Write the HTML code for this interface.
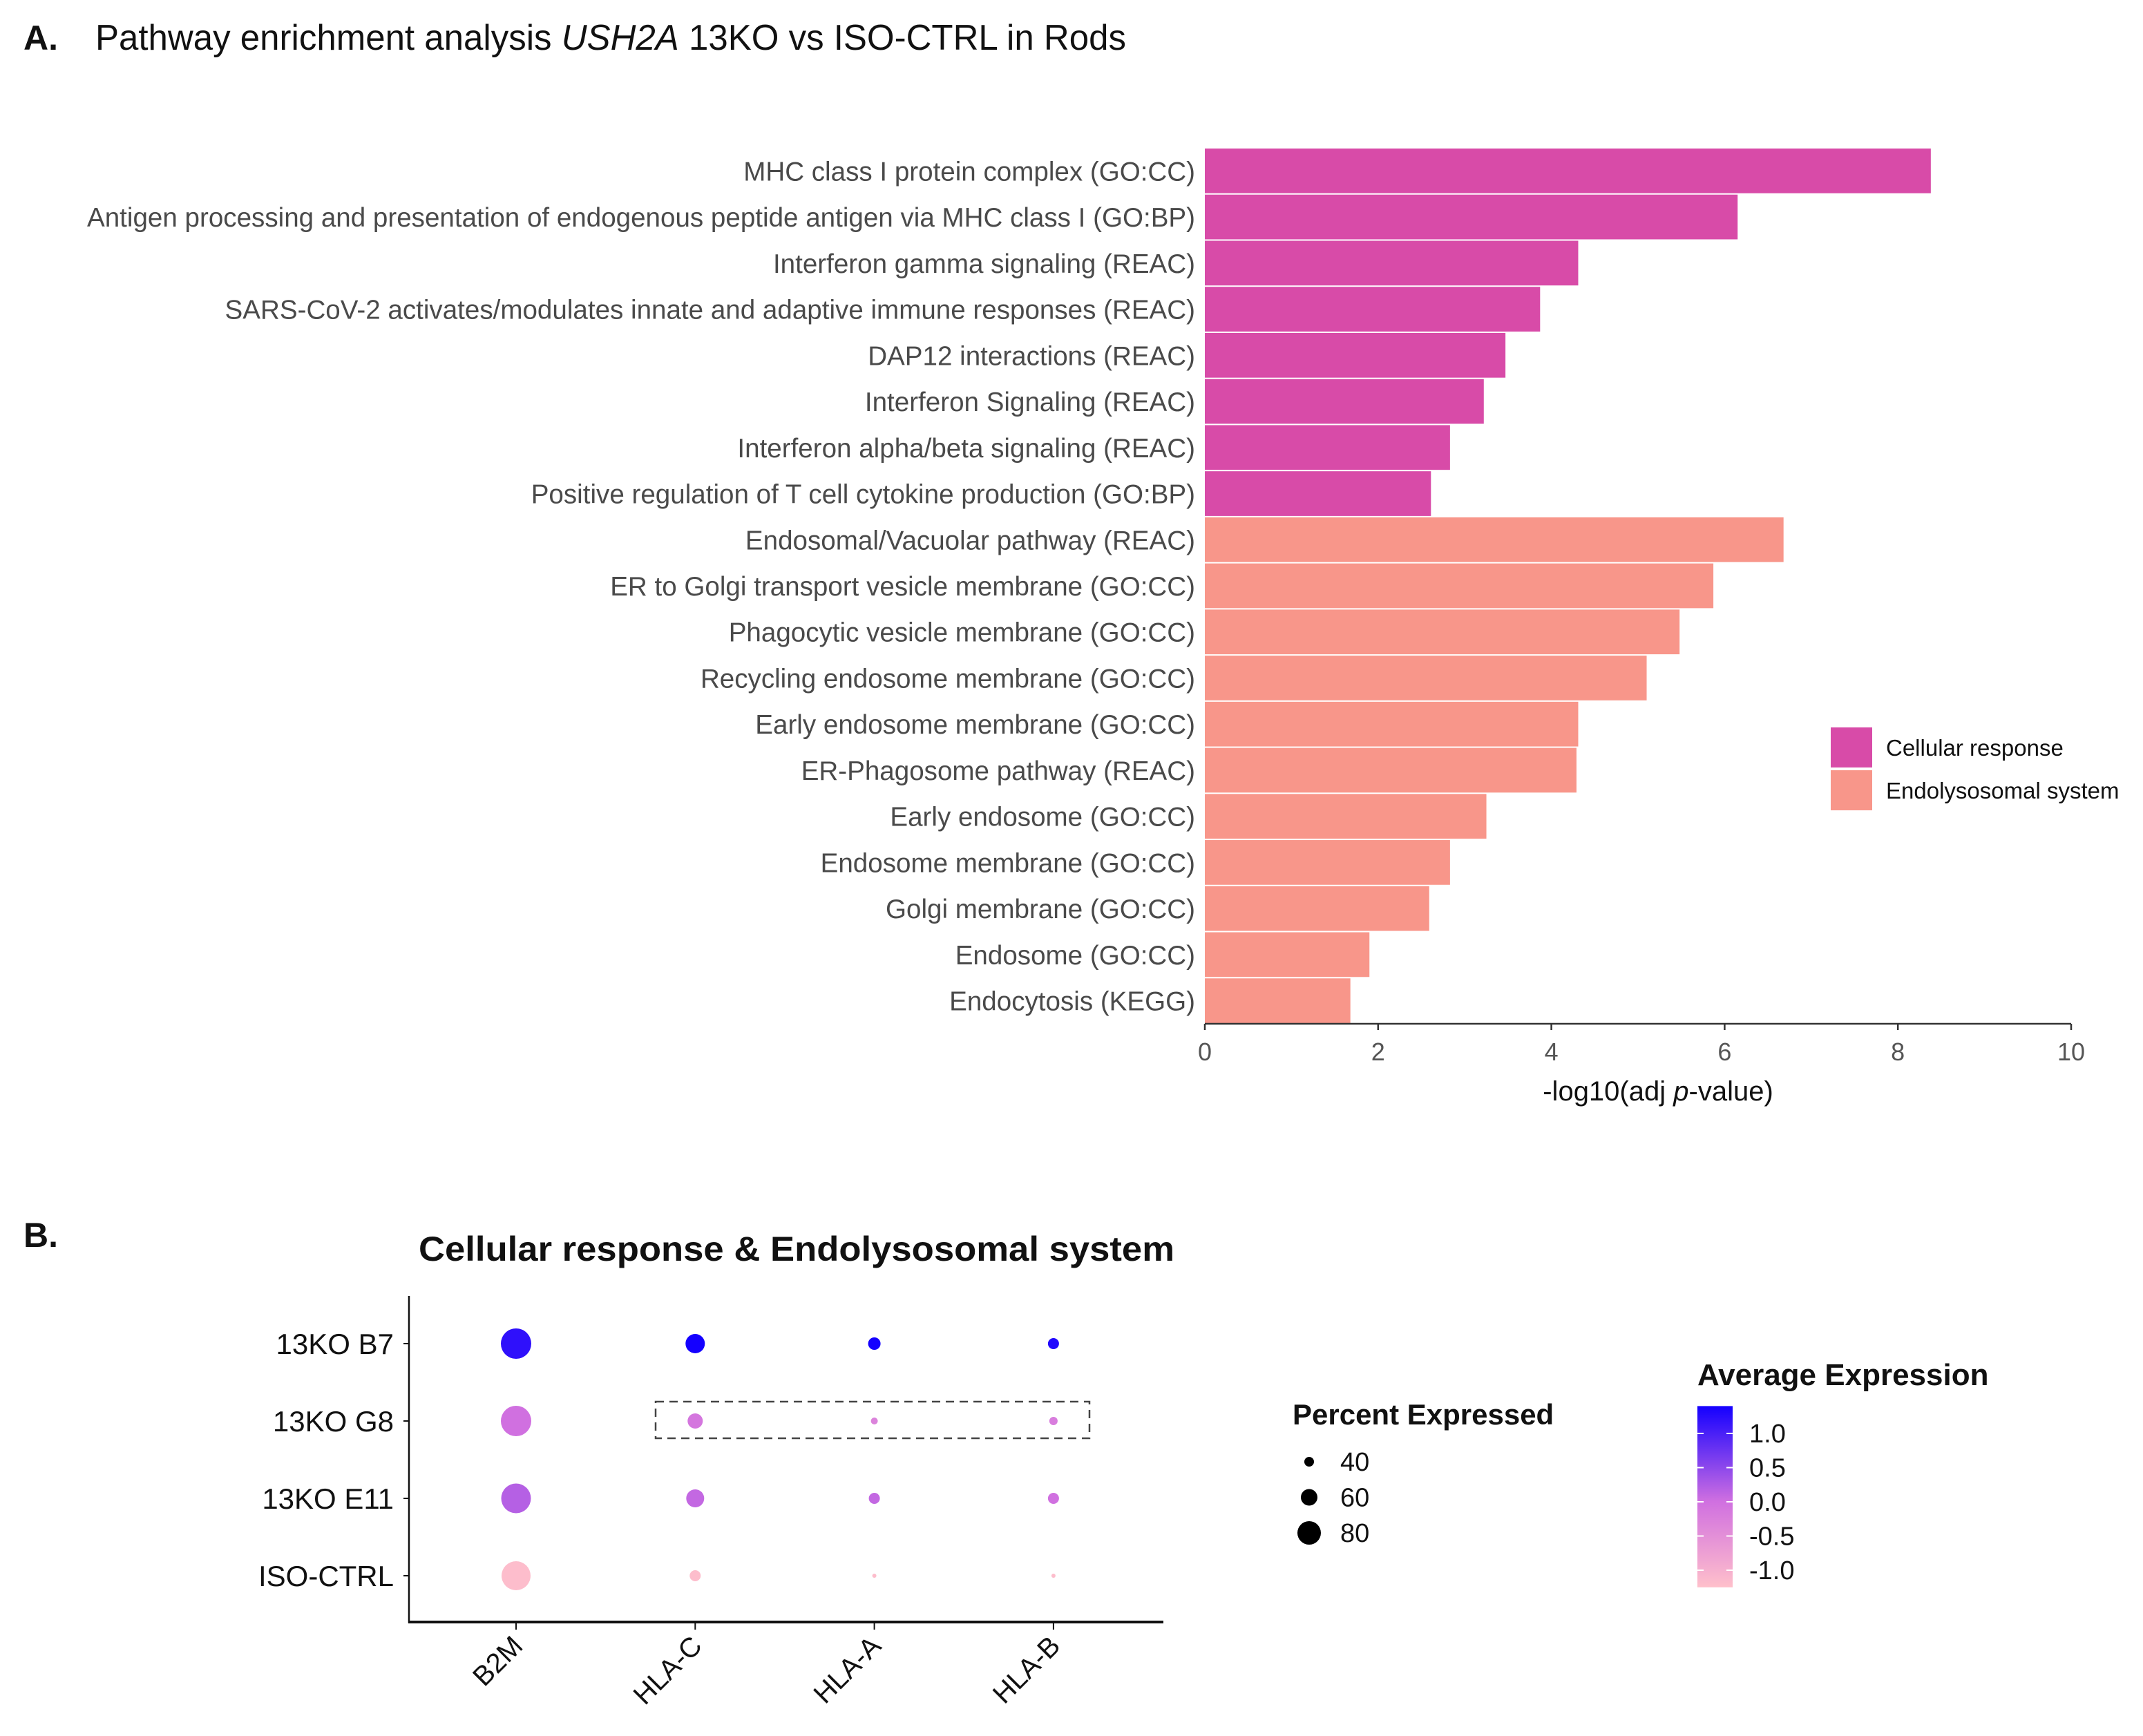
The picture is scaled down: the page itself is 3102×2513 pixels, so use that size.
<!DOCTYPE html>
<html><head><meta charset="utf-8"><style>
html,body{margin:0;padding:0;background:#fff;}
svg{display:block;font-family:"Liberation Sans",Arial,sans-serif;}
</style></head><body>
<svg id="fig" width="3102" height="2513" viewBox="0 0 3102 2513" xmlns="http://www.w3.org/2000/svg">
<rect width="3102" height="2513" fill="#fff"/>
<text x="34" y="72" font-size="50" font-weight="bold" fill="#111">A.</text>
<text id="titleA" x="138" y="72" font-size="52" fill="#111" textLength="1492" lengthAdjust="spacingAndGlyphs">Pathway enrichment analysis <tspan font-style="italic">USH2A</tspan> 13KO vs ISO-CTRL in Rods</text>
<g id="barG"></g>
<text x="34" y="1805" font-size="50" font-weight="bold" fill="#111">B.</text>
<text x="606" y="1825" font-size="50" font-weight="bold" fill="#111" textLength="1094" lengthAdjust="spacingAndGlyphs">Cellular response &amp; Endolysosomal system</text>
<g id="dotG" transform="translate(-2,-7)"></g>
</svg>
<script>
// ---- Panel A data ----
const pathways = ["MHC class I protein complex (GO:CC)","Antigen processing and presentation of endogenous peptide antigen via MHC class I (GO:BP)","Interferon gamma signaling (REAC)","SARS-CoV-2 activates/modulates innate and adaptive immune responses (REAC)","DAP12 interactions (REAC)","Interferon Signaling (REAC)","Interferon alpha/beta signaling (REAC)","Positive regulation of T cell cytokine production (GO:BP)","Endosomal/Vacuolar pathway (REAC)","ER to Golgi transport vesicle membrane (GO:CC)","Phagocytic vesicle membrane (GO:CC)","Recycling endosome membrane (GO:CC)","Early endosome membrane (GO:CC)","ER-Phagosome pathway (REAC)","Early endosome (GO:CC)","Endosome membrane (GO:CC)","Golgi membrane (GO:CC)","Endosome (GO:CC)","Endocytosis (KEGG)"];
const negLogP = [8.38,6.15,4.31,3.87,3.47,3.22,2.83,2.61,6.68,5.87,5.48,5.10,4.31,4.29,3.25,2.83,2.59,1.90,1.68];
const groups = ["Cellular response","Cellular response","Cellular response","Cellular response","Cellular response","Cellular response","Cellular response","Cellular response","Endolysosomal system","Endolysosomal system","Endolysosomal system","Endolysosomal system","Endolysosomal system","Endolysosomal system","Endolysosomal system","Endolysosomal system","Endolysosomal system","Endolysosomal system","Endolysosomal system"];
const groupNames = ["Cellular response","Endolysosomal system"];
const xTicks = [0,2,4,6,8,10];
// ---- Panel B data ----
const genes = ["B2M","HLA-C","HLA-A","HLA-B"];
const samples = ["13KO B7","13KO G8","13KO E11","ISO-CTRL"];
const pctExpr = [[100,68,48,44],[100,56,32,36],[98,64,44,44],[96,44,24,24]];
const avgExpr = [[1.2,1.4,1.4,1.3],[0.0,-0.1,-0.3,-0.2],[0.2,0.1,0.1,0.0],[-1.2,-1.2,-1.2,-1.2]];
const sizeBreaks = [40,60,80];
const colorBreaks = [1.0,0.5,0.0,-0.5,-1.0];

const NS="http://www.w3.org/2000/svg";
function mk(tag,attrs,parent,text){const e=document.createElementNS(NS,tag);for(const k in attrs)e.setAttribute(k,attrs[k]);if(text!==undefined)e.textContent=text;parent.appendChild(e);return e;}

// Panel A
const bg=document.getElementById('barG');
const X0=1744,X1=2998,XMAX=10,TOP=214,BOTTOM=1482;
const PITCH=(BOTTOM-TOP)/pathways.length;
const xs=v=>X0+(v/XMAX)*(X1-X0);
const ys=i=>TOP+i*PITCH;
const colors={"Cellular response":"#D84BA8","Endolysosomal system":"#F8968A"};
pathways.forEach((p,i)=>{
  const r=mk('rect',{x:X0,y:ys(i)+1,width:xs(negLogP[i])-X0,height:PITCH-2,fill:colors[groups[i]]},bg);
  
  
  const t=mk('text',{x:1730,y:ys(i)+PITCH/2+14,'font-size':39,fill:'#4a4a4a','text-anchor':'end'},bg,p);
  
  
});
(function(){const ref=bg.querySelectorAll('text')[1];const w=ref.getComputedTextLength();const f=1604/w;
 bg.querySelectorAll('text').forEach(t=>{t.setAttribute('textLength',t.getComputedTextLength()*f);t.setAttribute('lengthAdjust','spacingAndGlyphs');});})();
const ax=mk('line',{x1:X0,x2:X1,y1:BOTTOM,y2:BOTTOM,stroke:'#333','stroke-width':2.5},bg);


xTicks.forEach(v=>{
  mk('line',{x1:xs(v),x2:xs(v),y1:BOTTOM,y2:BOTTOM+9,stroke:'#333','stroke-width':2.5},bg);
  const t=mk('text',{x:xs(v),y:1535,'font-size':36,fill:'#555','text-anchor':'middle'},bg,String(v));
  
  
});
const xt=mk('text',{x:2400,y:1593,'font-size':40,fill:'#111','text-anchor':'middle'},bg);
xt.innerHTML='-log10(adj <tspan font-style="italic">p</tspan>-value)';


groupNames.forEach((g,i)=>{
  const r=mk('rect',{x:2650,y:1053+i*62,width:60,height:58,fill:colors[g]},bg);
  
  
  const t=mk('text',{x:2730,y:1094+i*62,'font-size':33,fill:'#111'},bg,g);
  
  
});

// Panel B
const dg=document.getElementById('dotG');
const colX=i=>749+i*259.3;
const rowY=i=>1952+i*112;
const dia=p=>Math.max(3,0.5*p-6);
const stops=[[-1.25,[255,192,203]],[0,[208,112,224]],[1.4,[20,0,255]]];
function col(v){v=Math.max(-1.25,Math.min(1.4,v));for(let k=0;k<stops.length-1;k++){const[a,ca]=stops[k],[b,cb]=stops[k+1];if(v<=b){const t=(v-a)/(b-a);return 'rgb('+ca.map((c,j)=>Math.round(c+(cb[j]-c)*t)).join(',')+')';}}}
const ya=mk('line',{x1:594,x2:594,y1:1883,y2:2356,stroke:'#111','stroke-width':2.5},dg);


const xa=mk('line',{x1:593,x2:1686,y1:2355,y2:2355,stroke:'#111','stroke-width':4},dg);


samples.forEach((s,i)=>{
  mk('line',{x1:586,x2:594,y1:rowY(i),y2:rowY(i),stroke:'#111','stroke-width':2},dg);
  const t=mk('text',{x:572,y:rowY(i)+15,'font-size':42,fill:'#111','text-anchor':'end'},dg,s);
  
  
});
genes.forEach((g,j)=>{
  mk('line',{x1:colX(j),x2:colX(j),y1:2355,y2:2366,stroke:'#111','stroke-width':2},dg);
  const t=mk('text',{x:colX(j)+12,y:2392,'font-size':40,fill:'#111','text-anchor':'end',transform:'rotate(-45 '+(colX(j)+12)+' 2392)'},dg,g);
  
  
});
samples.forEach((s,i)=>genes.forEach((g,j)=>{
  const c=mk('circle',{cx:colX(j),cy:rowY(i),r:dia(pctExpr[i][j])/2,fill:col(avgExpr[i][j])},dg);
  
  
}));
const box=mk('rect',{x:951,y:2036,width:628,height:53,fill:'none',stroke:'#444','stroke-width':2.5,'stroke-dasharray':'12 8'},dg);


const st=mk('text',{x:1873,y:2069,'font-size':42,'font-weight':'bold',fill:'#111'},dg,'Percent Expressed');


sizeBreaks.forEach((p,k)=>{
  const c=mk('circle',{cx:1897,cy:2123+k*51.5,r:dia(p)/2,fill:'#000'},dg);
  
  
  const t=mk('text',{x:1942,y:2136+k*51.5,'font-size':38,fill:'#111'},dg,String(p));
  
  
});
const ct=mk('text',{x:2459,y:2012,'font-size':44,'font-weight':'bold',fill:'#111'},dg,'Average Expression');


const defs=mk('defs',{},dg);
const lg=mk('linearGradient',{id:'cb',x1:0,y1:1,x2:0,y2:0},defs);
[-1.25,-0.6,0,0.7,1.4].forEach(v=>mk('stop',{offset:(v+1.25)/2.65,'stop-color':col(v)},lg));
const CB0=2181,CBS=99;
const cby=v=>CB0-v*CBS;
const cb=mk('rect',{x:2459,y:cby(1.4),width:51,height:cby(-1.25)-cby(1.4),fill:'url(#cb)'},dg);


colorBreaks.forEach(v=>{
  mk('line',{x1:2459,x2:2468,y1:cby(v),y2:cby(v),stroke:'#fff','stroke-width':2},dg);
  mk('line',{x1:2501,x2:2510,y1:cby(v),y2:cby(v),stroke:'#fff','stroke-width':2},dg);
  const t=mk('text',{x:2534,y:cby(v)+13,'font-size':38,fill:'#111'},dg,v.toFixed(1));
  
  
});
</script>
</body></html>
